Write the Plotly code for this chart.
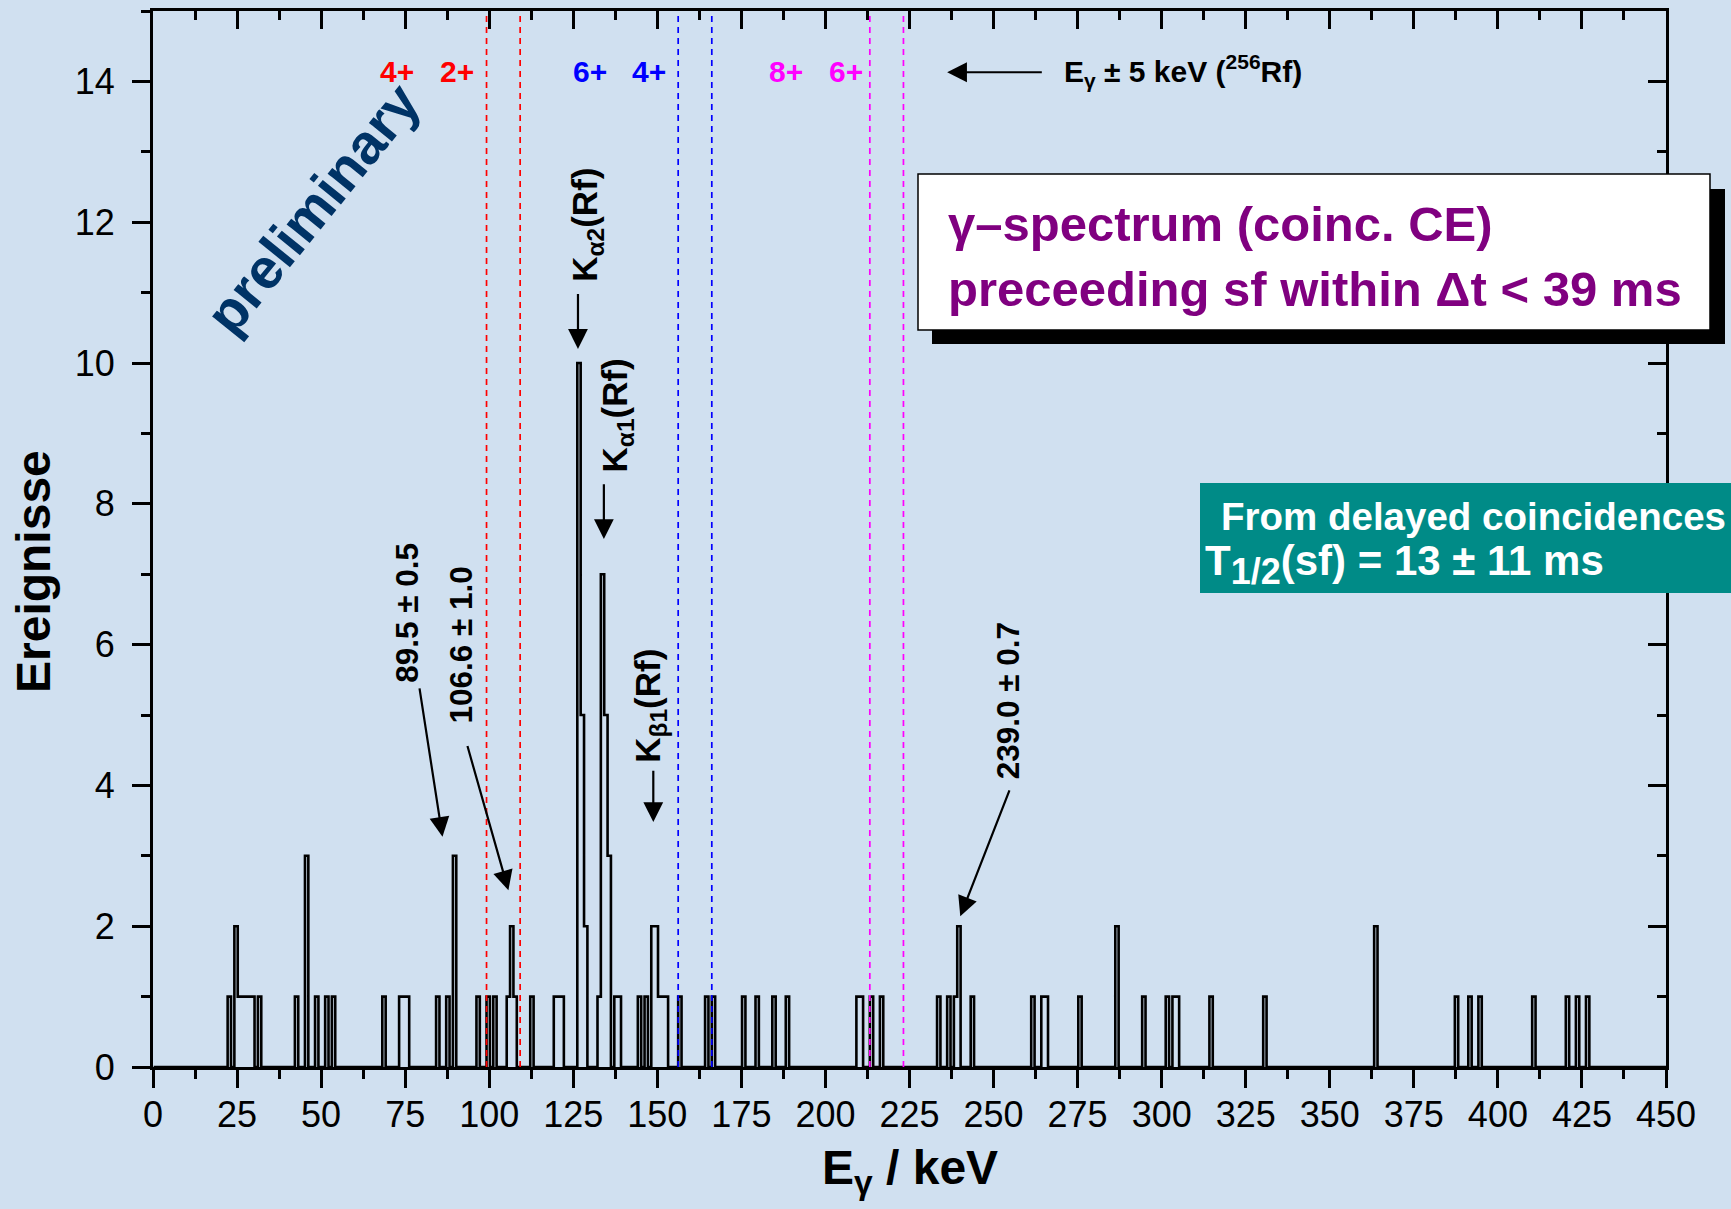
import plotly.graph_objects as go

# --- spectrum: lower edge of each occupied 1-keV bin (keV) and its counts ---
bin_keV = [22, 24, 25, 26, 27, 28, 29, 31, 42, 45,
           48, 51, 53, 68, 73, 74, 75, 84, 87, 89,
           96, 99, 101, 105, 106, 107, 112, 119, 120, 121,
           126, 127, 128, 132, 133, 134, 135, 137, 138, 144,
           146, 148, 149, 150, 151, 152, 156, 164, 166, 175,
           179, 184, 188, 209, 210, 213, 216, 233, 236, 238,
           239, 243, 261, 264, 265, 275, 286, 294, 301, 303,
           304, 314, 330, 363, 387, 391, 394, 410, 420, 423,
           426]
counts = [1, 2, 1, 1, 1, 1, 1, 1, 1, 3,
          1, 1, 1, 1, 1, 1, 1, 1, 1, 3,
          1, 1, 1, 1, 2, 1, 1, 1, 1, 1,
          10, 5, 2, 1, 7, 5, 3, 1, 1, 1,
          1, 2, 2, 1, 1, 1, 1, 1, 1, 1,
          1, 1, 1, 1, 1, 1, 1, 1, 1, 1,
          2, 1, 1, 1, 1, 1, 2, 1, 1, 1,
          1, 1, 1, 2, 1, 1, 1, 1, 1, 1,
          1]
BIN_WIDTH = 1.0
BIN_ORIGIN = 0.2

# 256Rf ground-band transitions (keV) with the +-5 keV window
band_centres = [104.2, 161.2, 218.2]
band_colours = ["#FF0000", "#0000FF", "#FF00FF"]
band_window = 5.0
spin_labels = [("4+", 72.5, "#FF0000"), ("2+", 90.4, "#FF0000"),
               ("6+", 130.0, "#0000FF"), ("4+", 147.5, "#0000FF"),
               ("8+", 188.3, "#FF00FF"), ("6+", 206.1, "#FF00FF")]

x_ticks = list(range(0, 451, 25))
y_ticks = list(range(0, 15, 2))

FONT = "Liberation Sans, Arial, sans-serif"
BG = "#D0E0F0"

# build the step outline of the histogram
n_bins = 450
hist = [0] * n_bins
for k, c in zip(bin_keV, counts):
    hist[k] = c
edges = [BIN_ORIGIN + i * BIN_WIDTH for i in range(n_bins + 1)]
levels = hist + [0]

fig = go.Figure()
fig.add_trace(go.Scatter(x=edges, y=levels, mode="lines",
                         line=dict(color="black", width=2.6, shape="hv"),
                         showlegend=False, hoverinfo="skip"))
# carrier for the mirrored top/right axes
fig.add_trace(go.Scatter(x=[None], y=[None], xaxis="x2", yaxis="y2",
                         showlegend=False, hoverinfo="skip"))

# plot-area geometry in pixels (used to place paper-referenced items)
L, R, T, B = 153, 65, 11, 142
W, H = 1731, 1209
PW, PH = W - L - R, H - T - B


def px(xp):
    return (xp - L) / PW


def py(yp):
    return (H - B - yp) / PH


shapes = []
for c, col in zip(band_centres, band_colours):
    for e in (c - band_window, c + band_window):
        shapes.append(dict(type="line", xref="x", yref="paper", x0=e, x1=e,
                           y0=0, y1=1, layer="above",
                           line=dict(color=col, width=1.7, dash="6px,5px")))

# white caption box with drop shadow
shapes.append(dict(type="rect", xref="paper", yref="paper",
                   x0=px(932), x1=px(1725), y0=py(344), y1=py(189),
                   fillcolor="black", line=dict(width=0), layer="above"))
shapes.append(dict(type="rect", xref="paper", yref="paper",
                   x0=px(918), x1=px(1710), y0=py(330), y1=py(174),
                   fillcolor="white", line=dict(color="black", width=1.5),
                   layer="above"))
# teal info box
shapes.append(dict(type="rect", xref="paper", yref="paper",
                   x0=px(1200), x1=px(1745), y0=py(593), y1=py(483),
                   fillcolor="#008B87", line=dict(width=0), layer="above"))

ann = []


def text(x, y, s, size, color="black", angle=0, xanchor="center",
         yanchor="middle", xref="x", yref="y", weight="bold", family=FONT):
    ann.append(dict(x=x, y=y, xref=xref, yref=yref, text=s, showarrow=False,
                    textangle=angle, xanchor=xanchor, yanchor=yanchor,
                    font=dict(family=family, size=size, color=color,
                              weight=weight)))


def arrow(x, y, ax, ay):
    ann.append(dict(x=x, y=y, ax=ax, ay=ay, xref="x", yref="y", axref="x",
                    ayref="y", text="", showarrow=True, arrowhead=2,
                    arrowsize=1.8, arrowwidth=2.2, arrowcolor="black"))


for s, e, col in spin_labels:
    text(e, 14.14, s, 30, col)

text(270.4, 14.15, "E<sub>γ</sub> ± 5 keV (<sup>256</sup>Rf)", 30,
     xanchor="left")
arrow(236.2, 14.13, 264.8, 14.13)

text(75.5, 6.45, "89.5 ± 0.5", 31.5, angle=-90)
arrow(86.1, 3.27, 79.2, 5.40)
text(91.6, 6.0, "106.6 ± 1.0", 31.5, angle=-90)
arrow(105.7, 2.51, 93.4, 4.58)
text(129.0, 11.96, "K<sub>α2</sub>(Rf)", 35, angle=-90)
arrow(126.4, 10.2, 126.4, 11.0)
text(137.9, 9.25, "K<sub>α1</sub>(Rf)", 35, angle=-90)
arrow(134.1, 7.5, 134.1, 8.3)
text(147.8, 5.13, "K<sub>β1</sub>(Rf)", 35, angle=-90)
arrow(148.8, 3.48, 148.8, 4.23)
text(254.4, 5.2, "239.0 ± 0.7", 31.5, angle=-90)
arrow(240.1, 2.14, 254.9, 3.95)

text(47.5, 12.19, "preliminary", 56, color="#003366", angle=-51)

PURPLE = "#800080"
text(px(946), py(224), "γ–spectrum (coinc. CE)", 49, PURPLE,
     xanchor="left", xref="paper", yref="paper")
text(px(946), py(289), "preceeding sf within Δt < 39 ms", 49, PURPLE,
     xanchor="left", xref="paper", yref="paper")
text(px(1219), py(516), "From delayed coincidences", 38.5, "white",
     xanchor="left", xref="paper", yref="paper")
text(px(1203), py(564),
     "T<sub><span style='font-size:36px'>1/2</span></sub>(sf) = 13 ± 11 ms",
     42, "white", xanchor="left", xref="paper", yref="paper")

# axis titles
text(0.5, py(1171), "E<sub>γ</sub> / keV", 48, xref="paper", yref="paper")
text(px(33), py(572), "Ereignisse", 48, angle=-90, xref="paper",
     yref="paper")

axis_common = dict(showgrid=False, zeroline=False, showline=True,
                   linecolor="black", linewidth=3, tickcolor="black",
                   tickwidth=3, ticklen=18)
fig.update_layout(
    width=W, height=H,
    margin=dict(l=L, r=R, t=T, b=B, pad=0),
    paper_bgcolor=BG, plot_bgcolor=BG,
    showlegend=False,
    xaxis=dict(range=[0, 450], tickvals=x_ticks, ticks="outside",
               tickfont=dict(family=FONT, size=36, color="black"),
               ticklabelstandoff=-4,
               minor=dict(dtick=12.5, tick0=0, ticks="outside", ticklen=9,
                          tickwidth=3, tickcolor="black"),
               **axis_common),
    yaxis=dict(range=[0, 15], tickvals=y_ticks, ticks="outside",
               tickfont=dict(family=FONT, size=36, color="black"),
               ticklabelstandoff=10,
               minor=dict(dtick=1, tick0=0, ticks="outside", ticklen=9,
                          tickwidth=3, tickcolor="black"),
               **axis_common),
    xaxis2=dict(range=[0, 450], overlaying="x", side="top",
                tickvals=x_ticks, ticks="inside", showticklabels=False,
                minor=dict(dtick=12.5, tick0=0, ticks="inside", ticklen=9,
                           tickwidth=3, tickcolor="black"),
                **axis_common),
    yaxis2=dict(range=[0, 15], overlaying="y", side="right",
                tickvals=y_ticks, ticks="inside", showticklabels=False,
                minor=dict(dtick=1, tick0=0, ticks="inside", ticklen=9,
                           tickwidth=3, tickcolor="black"),
                **axis_common),
    shapes=shapes,
    annotations=ann,
)

fig.write_html("out.html")
